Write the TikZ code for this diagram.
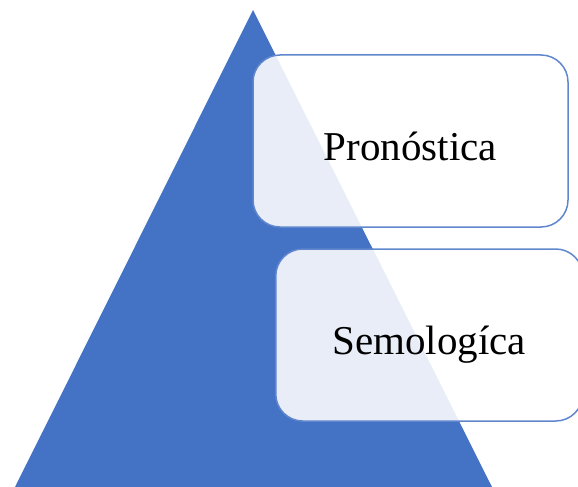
\documentclass[tikz,border=0pt]{standalone}
\usepackage{fontspec}
\setmainfont{Liberation Serif}
\definecolor{pyrblue}{RGB}{68,114,196}
\tikzset{
  levelbox/.style={draw=pyrblue!85, line width=1.5pt, rounded corners=27pt,
    fill=white, fill opacity=0.88, text opacity=1,
    font=\fontsize{41}{41}\selectfont, text height=38pt, text depth=0pt,
    inner sep=0pt}
}
\begin{document}
\begin{tikzpicture}[x=1pt,y=-1pt]
			\useasboundingbox (0,0) rectangle (578,487);
			\fill[pyrblue] (253,10) -- (492,487) -- (15,487) -- cycle;
	%		upper level
			\node[levelbox, minimum width=315pt, minimum height=172pt] (prono) at (410.5,141) {Pronóstica};
	%		lower level
			\node[levelbox, minimum width=307pt, minimum height=172pt, anchor=west] (semo) at (275,335) {Semologíca};
		\end{tikzpicture}
\end{document}
